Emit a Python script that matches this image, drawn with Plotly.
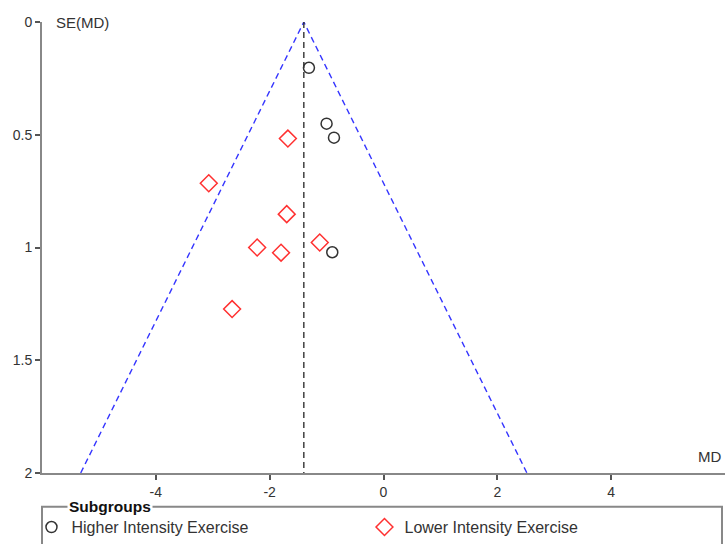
import plotly.graph_objects as go

# Data
higher_md = [-1.31, -1.00, -0.87, -0.90]
higher_se = [0.203, 0.451, 0.513, 1.021]
lower_md = [-1.68, -3.07, -1.70, -1.12, -2.22, -1.80, -2.66]
lower_se = [0.517, 0.715, 0.852, 0.978, 1.000, 1.023, 1.273]
pooled_md = -1.40
se_max = 2.0
x_ticks = [-4, -2, 0, 2, 4]
y_ticks = [0, 0.5, 1, 1.5, 2]

FONT = "Liberation Sans, Arial, sans-serif"

fig = go.Figure()

# Funnel limits (95% pseudo-CI)
fig.add_trace(go.Scatter(
    x=[pooled_md - 1.96 * se_max, pooled_md, pooled_md + 1.96 * se_max],
    y=[se_max, 0, se_max],
    mode="lines", line=dict(color="#3535ff", width=1.4, dash="6px,4px"),
    showlegend=False, hoverinfo="skip"))
# Pooled estimate line
fig.add_trace(go.Scatter(
    x=[pooled_md, pooled_md], y=[0, se_max],
    mode="lines", line=dict(color="#333333", width=1.4, dash="6px,4px"),
    showlegend=False, hoverinfo="skip"))

fig.add_trace(go.Scatter(
    x=higher_md, y=higher_se, mode="markers", name="Higher Intensity Exercise",
    marker=dict(symbol="circle-open", size=11, color="#333333", line=dict(width=1.5))))
fig.add_trace(go.Scatter(
    x=lower_md, y=lower_se, mode="markers", name="Lower Intensity Exercise",
    marker=dict(symbol="diamond-open", size=13, color="#ff3030", line=dict(width=1.5))))

fig.update_layout(
    template="none",
    width=725, height=544,
    margin=dict(l=42, r=0, t=22, b=71, autoexpand=False),
    paper_bgcolor="white", plot_bgcolor="white",
    font=dict(family=FONT, size=14, color="#333333"),
    xaxis=dict(range=[-6, 6], tickvals=x_ticks, ticktext=[str(v) for v in x_ticks],
               showgrid=False, zeroline=False, showline=True, linecolor="#888888",
               linewidth=2, ticks="outside", ticklen=5, tickcolor="#555555",
               tickwidth=1.5, tickfont=dict(size=14, color="#333333"), automargin=False),
    yaxis=dict(range=[2, 0], tickvals=y_ticks, ticktext=["0", "0.5", "1", "1.5", "2"],
               showgrid=False, zeroline=False, showline=True, linecolor="#888888",
               linewidth=2, ticks="outside", ticklen=5, tickcolor="#555555",
               tickwidth=1.5, tickfont=dict(size=14, color="#333333"), automargin=False),
    showlegend=True,
    legend=dict(orientation="h", x=-0.0154, xanchor="left", y=-0.12, yanchor="middle",
                entrywidth=288, entrywidthmode="pixels", itemwidth=30,
                font=dict(size=16, color="#333333"), bgcolor="rgba(0,0,0,0)",
                borderwidth=0, tracegroupgap=0),
)

fig.add_annotation(text="SE(MD)", xref="paper", yref="paper", x=0.0176, y=1,
                   xanchor="left", yanchor="middle", showarrow=False,
                   font=dict(size=15, color="#333333"))
fig.add_annotation(text="MD", xref="paper", yref="paper", x=0.997, y=0,
                   xanchor="right", yanchor="bottom", yshift=6, showarrow=False,
                   font=dict(size=15, color="#333333"))

# Legend frame with title
fig.add_shape(type="rect", xref="paper", yref="paper", x0=0, x1=0.9956,
              y0=-0.075, y1=-0.4, line=dict(color="#888888", width=2),
              fillcolor="rgba(0,0,0,0)")
fig.add_annotation(text="<b>Subgroups</b>", xref="paper", yref="paper",
                   x=(67 - 42) / 683, y=-0.075, xanchor="left", yanchor="middle",
                   showarrow=False, bgcolor="white", borderpad=1,
                   font=dict(size=15.5, color="#111111"))

fig.write_html("out.html", config={"displayModeBar": False},
               post_script="document.body.style.margin='0';document.body.style.overflow='hidden';")
